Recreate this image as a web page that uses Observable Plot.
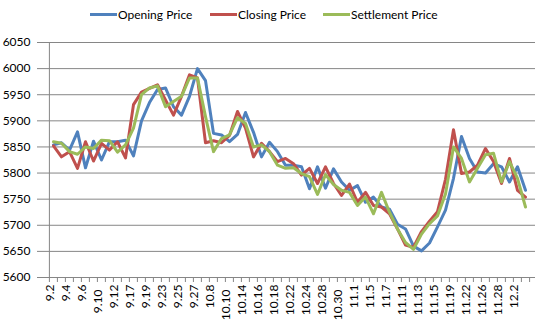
<!DOCTYPE html>
<html><head><meta charset="utf-8">
<script src="https://cdn.jsdelivr.net/npm/d3@7"></script>
<script src="https://cdn.jsdelivr.net/npm/@observablehq/plot@0.6"></script>
<style>
body{margin:0;background:#fff;font-family:Lato,sans-serif;}
#legend{position:relative;height:30px;width:539px;font-size:12px;color:#000;}
.item{position:absolute;top:6px;height:16px;display:flex;align-items:center;white-space:nowrap;}
.sw{width:27px;height:3px;margin-right:1px;}
</style></head><body>
<div id="legend"></div>
<div id="chart"></div>
<script>
const dates = ["9.2","9.3","9.4","9.5","9.6","9.9","9.10","9.11","9.12","9.13","9.17","9.18","9.19","9.20","9.23","9.24","9.25","9.26","9.27","9.30","10.8","10.9","10.10","10.11","10.14","10.15","10.16","10.17","10.18","10.21","10.22","10.23","10.24","10.25","10.28","10.29","10.30","10.31","11.1","11.4","11.5","11.6","11.7","11.8","11.11","11.12","11.13","11.14","11.15","11.18","11.19","11.20","11.22","11.25","11.26","11.27","11.28","11.29","12.2","12.3"];
const xTickLabels = ["9.2","9.4","9.6","9.10","9.12","9.17","9.19","9.23","9.25","9.27","10.8","10.10","10.14","10.16","10.18","10.22","10.24","10.28","10.30","11.1","11.5","11.7","11.11","11.13","11.15","11.19","11.22","11.26","11.28","12.2"];
const openPrice = [5854,5858,5844,5879,5810,5861,5825,5860,5860,5863,
 5833,5900,5935,5960,5963,5927,5911,5947,6000,5977,
 5876,5873,5860,5874,5916,5878,5831,5859,5841,5815,
 5815,5812,5770,5812,5771,5808,5783,5767,5776,5744,
 5754,5735,5731,5702,5693,5660,5651,5666,5697,5729,
 5790,5870,5828,5802,5800,5818,5812,5783,5812,5767];
const closePrice = [5852,5831,5841,5809,5860,5823,5857,5844,5860,5829,
 5931,5955,5962,5969,5940,5911,5947,5988,5982,5858,
 5862,5858,5872,5918,5886,5831,5857,5841,5822,5828,
 5818,5796,5809,5780,5812,5780,5757,5779,5744,5763,
 5738,5735,5722,5693,5662,5658,5688,5708,5726,5788,
 5883,5799,5802,5815,5847,5822,5780,5828,5767,5754];
const settlePrice = [5860,5857,5841,5836,5850,5847,5863,5862,5840,5854,
 5886,5950,5963,5967,5927,5937,5947,5982,5982,5908,
 5841,5866,5873,5906,5895,5850,5854,5841,5815,5809,
 5810,5799,5793,5759,5797,5778,5767,5763,5738,5754,
 5722,5763,5725,5693,5667,5654,5683,5703,5718,5760,
 5850,5828,5783,5809,5835,5838,5783,5822,5790,5735];
const seriesNames = ["Opening Price","Closing Price","Settlement Price"];
const seriesColors = ["#4F81BD","#C0504D","#9BBB59"];
const yTicks = [5600,5650,5700,5750,5800,5850,5900,5950,6000,6050];

// legend
const legendLeft = [90, 210, 323];
const legend = document.getElementById("legend");
seriesNames.forEach((n,i)=>{
  const it = document.createElement("div");
  it.className = "item"; it.style.left = legendLeft[i] + "px";
  it.innerHTML = `<span class="sw" style="background:${seriesColors[i]}"></span><span>${n}</span>`;
  legend.appendChild(it);
});

const rows = [];
[openPrice, closePrice, settlePrice].forEach((arr, s) => {
  arr.forEach((v, i) => rows.push({date: dates[i], series: seriesNames[s], value: v}));
});

const W = 539, H = 293, mL = 42, mR = 4, mT = 12, mB = 46;
const step = (W - mL - mR) / dates.length;
const innerH = H - mT - mB;
const tickLen = 5 * (6050 - 5600) / innerH;
const gray = "#868686";
const font = "Lato, sans-serif";
const endsZero = d => d.endsWith("0");

const chart = Plot.plot({
  width: W, height: H,
  marginLeft: mL, marginRight: mR, marginTop: mT, marginBottom: mB,
  style: {fontFamily: font, fontSize: "12px", color: "#000", background: "#fff"},
  x: {type: "point", domain: dates, padding: 0.5, axis: null},
  y: {domain: [5600, 6050], axis: null},
  color: {domain: seriesNames, range: seriesColors},
  marks: [
    Plot.gridY(yTicks, {stroke: gray, strokeOpacity: 1, strokeWidth: 1}),
    Plot.axisY(yTicks, {tickSize: 5, tickPadding: 7, stroke: gray, fill: "#000", fontSize: 12, tickFormat: d => String(d), label: null}),
    Plot.ruleX([dates[0]], {dx: -step/2, stroke: gray}),
    Plot.ruleX(dates, {x: d => d, y1: 5600, y2: 5600 - tickLen, dx: -step/2, stroke: gray}),
    Plot.ruleX([dates[dates.length-1]], {y1: 5600, y2: 5600 - tickLen, dx: step/2, stroke: gray}),
    Plot.text(xTickLabels.filter(d => !endsZero(d)), {x: d => d, frameAnchor: "bottom", rotate: -90, textAnchor: "end", fontSize: 12, fill: "#000", dy: 7}),
    Plot.text(xTickLabels.filter(endsZero), {x: d => d, frameAnchor: "bottom", rotate: -90, textAnchor: "end", fontSize: 12, fill: "#000", dy: 12}),
    Plot.lineY(rows, {x: "date", y: "value", z: "series", stroke: "series", strokeWidth: 3, strokeLinejoin: "round", strokeLinecap: "round"})
  ]
});
document.getElementById("chart").appendChild(chart);
</script>
</body></html>
